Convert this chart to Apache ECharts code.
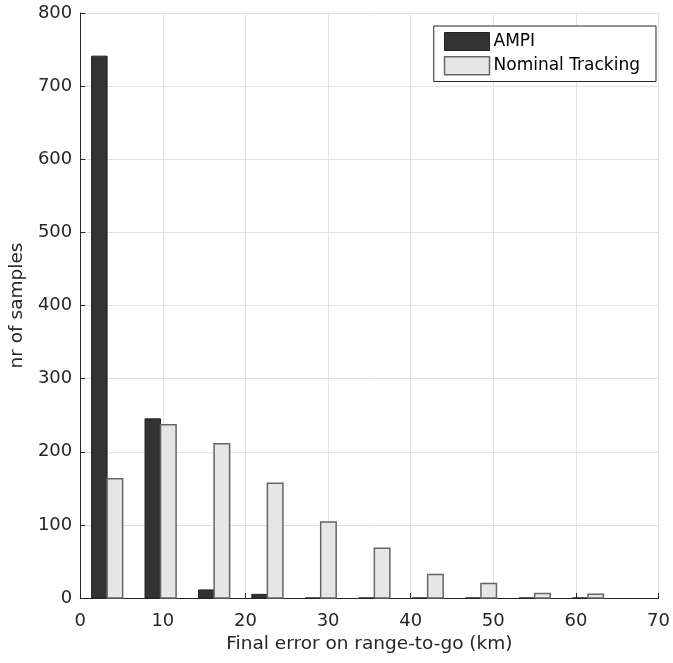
<!DOCTYPE html>
<html>
<head>
<meta charset="utf-8">
<script src="https://cdn.jsdelivr.net/npm/echarts@6/dist/echarts.min.js"></script>
<style>html,body{margin:0;padding:0;background:#fff}#c{width:673px;height:663px}</style>
</head>
<body>
<div id="c"></div>
<script>
var binCenters = [3.25, 9.72, 16.2, 22.65, 29.1, 35.6, 42.05, 48.5, 55.0, 61.45];
var ampi = [741, 245, 11, 5, 0, 0, 0, 0, 0, 0];
var nominal = [163, 237, 211, 157, 104, 68, 32, 20, 6, 5];
var xTicks = [0, 10, 20, 30, 40, 50, 60, 70];
var yTicks = [0, 100, 200, 300, 400, 500, 600, 700, 800];

var BAR_W = 1.88;
function makeRender(side) {
  return function (params, api) {
    var c = api.value(0), v = api.value(1);
    var x0 = side < 0 ? c - BAR_W : c;
    var x1 = side < 0 ? c : c + BAR_W;
    var p0 = api.coord([x0, v]);
    var p1 = api.coord([x1, 0]);
    return {
      type: 'rect',
      shape: { x: p0[0], y: p0[1], width: p1[0] - p0[0], height: p1[1] - p0[1] },
      style: api.style()
    };
  };
}
function pairs(vals) { return binCenters.map(function (c, i) { return [c, vals[i]]; }); }

var font = 'DejaVu Sans, Arial, sans-serif';
var chart = echarts.init(document.getElementById('c'));
chart.setOption({
  animation: false,
  backgroundColor: '#fff',
  grid: { left: 78, right: 13, top: 13, bottom: 65 },
  legend: {
    right: 17, top: 26, orient: 'vertical',
    backgroundColor: '#fff', borderColor: '#262626', borderWidth: 1,
    padding: [6, 16, 6, 10], itemGap: 5, itemWidth: 45, itemHeight: 18,
    textStyle: { fontFamily: font, fontSize: 17, color: '#000', padding: [0, 0, 0, -1] },
    data: [
      { name: 'AMPI', icon: 'rect', itemStyle: { color: '#333333', borderColor: '#222', borderWidth: 1 } },
      { name: 'Nominal Tracking', icon: 'rect', itemStyle: { color: '#e6e6e6', borderColor: '#666', borderWidth: 1.5 } }
    ]
  },
  xAxis: {
    type: 'value', min: 0, max: 70, interval: 10,
    name: 'Final error on range-to-go (km)', nameLocation: 'middle', nameGap: 31,
    nameTextStyle: { fontFamily: font, fontSize: 18.5, color: '#262626' },
    axisLine: { show: true, lineStyle: { color: '#262626' } },
    axisTick: { show: true, inside: true, length: 5, lineStyle: { color: '#262626' } },
    axisLabel: { fontFamily: font, fontSize: 18, color: '#262626', margin: 14 },
    splitLine: { show: true, lineStyle: { color: '#e3e3e3', width: 1 } }
  },
  yAxis: {
    type: 'value', min: 0, max: 800, interval: 100,
    name: 'nr of samples', nameLocation: 'middle', nameGap: 42, nameRotate: 90,
    nameTextStyle: { fontFamily: font, fontSize: 18.5, color: '#262626' },
    axisLine: { show: true, lineStyle: { color: '#262626' } },
    axisTick: { show: true, inside: true, length: 5, lineStyle: { color: '#262626' } },
    axisLabel: { fontFamily: font, fontSize: 18, color: '#262626', margin: 8 },
    splitLine: { show: true, lineStyle: { color: '#e3e3e3', width: 1 } }
  },
  series: [
    {
      name: 'AMPI', type: 'custom', renderItem: makeRender(-1),
      itemStyle: { color: '#333333', borderColor: '#222', borderWidth: 1 },
      encode: { x: 0, y: 1 }, data: pairs(ampi)
    },
    {
      name: 'Nominal Tracking', type: 'custom', renderItem: makeRender(1),
      itemStyle: { color: '#e6e6e6', borderColor: '#666', borderWidth: 1.5 },
      encode: { x: 0, y: 1 }, data: pairs(nominal)
    }
  ]
});
</script>
</body>
</html>
